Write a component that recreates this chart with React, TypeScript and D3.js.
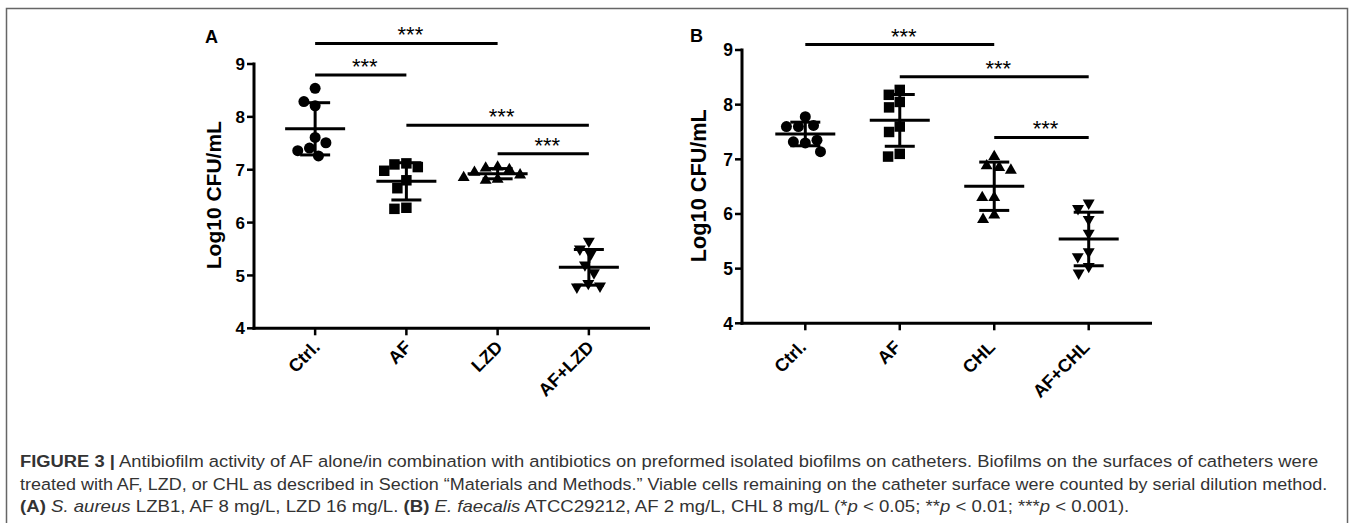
import React, { useLayoutEffect, useRef, useState } from 'react';
import * as d3 from 'd3';

// ---------- data ----------
const catsA = ['Ctrl.', 'AF', 'LZD', 'AF+LZD'];
const catsB = ['Ctrl.', 'AF', 'CHL', 'AF+CHL'];
const yTicks = [4, 5, 6, 7, 8, 9];

const aCtrl = [8.54, 8.21, 8.29, 7.61, 7.41, 7.51, 7.26, 7.36];
const aAF = [7.12, 7.1, 7.05, 6.98, 6.8, 6.65, 6.28, 6.26];
const aLZD = [7.05, 7.03, 7.0, 6.95, 6.9, 6.85, 6.82, 6.8];
const aAFLZD = [5.65, 5.5, 5.4, 5.2, 5.05, 4.85, 4.8, 4.78];

const bCtrl = [7.78, 7.6, 7.62, 7.6, 7.3, 7.32, 7.35, 7.14];
const bAF = [8.27, 8.18, 8.05, 7.95, 7.6, 7.5, 7.1, 7.05];
const bCHL = [7.05, 6.88, 6.85, 6.8, 6.3, 6.3, 5.98, 5.9];
const bAFCHL = [6.2, 6.1, 5.9, 5.65, 5.31, 5.22, 5.04, 4.92];

const sigFromA = ['Ctrl.', 'Ctrl.', 'AF', 'LZD'];
const sigToA = ['LZD', 'AF', 'AF+LZD', 'AF+LZD'];
const sigLevelA = [9.39, 8.79, 7.84, 7.3];
const sigLabelA = ['***', '***', '***', '***'];

const sigFromB = ['Ctrl.', 'AF', 'CHL'];
const sigToB = ['CHL', 'AF+CHL', 'AF+CHL'];
const sigLevelB = [9.1, 8.51, 7.4];
const sigLabelB = ['***', '***', '***'];

// ---------- helpers ----------
function swarm(vals: number[], y: (v: number) => number, D: number): number[] {
  const placed: { x: number; y: number }[] = [];
  return vals.map((v) => {
    const py = y(v);
    const iv = placed
      .filter((p) => Math.abs(p.y - py) < D)
      .map((p) => {
        const w = Math.sqrt(D * D - (p.y - py) * (p.y - py));
        return [p.x - w, p.x + w];
      });
    const cands = [0, ...iv.flat()].sort((a, b) => Math.abs(a) - Math.abs(b));
    const x =
      cands.find((c) => iv.every(([a, b]) => c <= a + 1e-6 || c >= b - 1e-6)) ?? 0;
    placed.push({ x, y: py });
    return x;
  });
}

const symbolTypes = [d3.symbolCircle, d3.symbolSquare, d3.symbolTriangle, d3.symbolTriangle];
const symbolSizes = [95, 110, 62, 62];
const symbolRot = [0, 0, 0, 180];

const FONT = '"Liberation Sans", Arial, sans-serif';

interface PanelProps {
  cats: string[];
  groups: number[][];
  sigFrom: string[];
  sigTo: string[];
  sigLevel: number[];
  sigLabel: string[];
  x0: number;
  x1: number;
  yTop: number;
  yBot: number;
  letter: string;
  letterX: number;
  letterY: number;
  titleX: number;
  titleFont: number;
  tickFont: number;
  labDx: number;
  labDy: number;
}

function Panel(p: PanelProps) {
  const x = d3.scalePoint<string>().domain(p.cats).range([p.x0, p.x1]).padding(0.67);
  const y = d3.scaleLinear().domain([4, 9]).range([p.yBot, p.yTop]);
  const sw = 3;
  return (
    <g>
      <text x={p.letterX} y={p.letterY} fontFamily={FONT} fontWeight="bold" fontSize={18}>
        {p.letter}
      </text>
      <line x1={p.x0} x2={p.x0} y1={y(9) - 1.5} y2={y(4) + 1.5} stroke="#000" strokeWidth={sw} />
      {yTicks.map((t) => (
        <g key={t}>
          <line x1={p.x0 - 7} x2={p.x0} y1={y(t)} y2={y(t)} stroke="#000" strokeWidth={2.5} />
          <text
            x={p.x0 - 9}
            y={y(t)}
            dy="0.36em"
            textAnchor="end"
            fontFamily={FONT}
            fontWeight="bold"
            fontSize={p.tickFont}
          >
            {t}
          </text>
        </g>
      ))}
      <text
        transform={`translate(${p.titleX},${(y(9) + y(4)) / 2 - 1}) rotate(-90)`}
        textAnchor="middle"
        fontFamily={FONT}
        fontWeight="bold"
        fontSize={p.titleFont}
      >
        Log10 CFU/mL
      </text>
      <line x1={p.x0 - 1.5} x2={p.x1} y1={p.yBot} y2={p.yBot} stroke="#000" strokeWidth={sw} />
      {p.cats.map((c) => (
        <g key={c}>
          <line x1={x(c)} x2={x(c)} y1={p.yBot} y2={p.yBot + 7} stroke="#000" strokeWidth={2.5} />
          <text
            transform={`translate(${(x(c) as number) + p.labDx},${p.yBot + p.labDy}) rotate(-45)`}
            textAnchor="end"
            fontFamily={FONT}
            fontWeight="bold"
            fontSize={18}
          >
            {c}
          </text>
        </g>
      ))}
      {p.groups.map((vals, gi) => {
        const cx = x(p.cats[gi]) as number;
        const offs = swarm(vals, y, 12);
        const m = d3.mean(vals) as number;
        const sd = d3.deviation(vals) as number;
        const sym = d3.symbol().type(symbolTypes[gi]).size(symbolSizes[gi]);
        return (
          <g key={gi}>
            {vals.map((v, i) => (
              <path
                key={i}
                d={sym() as string}
                transform={`translate(${cx + offs[i]},${y(v)}) rotate(${symbolRot[gi]})`}
                fill="#000"
              />
            ))}
            <line x1={cx - 30} x2={cx + 30} y1={y(m)} y2={y(m)} stroke="#000" strokeWidth={sw} />
            <line x1={cx} x2={cx} y1={y(m + sd)} y2={y(m - sd)} stroke="#000" strokeWidth={sw} />
            <line x1={cx - 15} x2={cx + 15} y1={y(m + sd)} y2={y(m + sd)} stroke="#000" strokeWidth={sw} />
            <line x1={cx - 15} x2={cx + 15} y1={y(m - sd)} y2={y(m - sd)} stroke="#000" strokeWidth={sw} />
          </g>
        );
      })}
      {p.sigFrom.map((f, i) => {
        const xa = x(f) as number;
        const xb = x(p.sigTo[i]) as number;
        const yy = y(p.sigLevel[i]);
        return (
          <g key={i}>
            <line x1={xa} x2={xb} y1={yy} y2={yy} stroke="#000" strokeWidth={sw} />
            <text
              x={(xa + xb) / 2 + 4}
              y={yy - 1}
              textAnchor="middle"
              fontFamily={FONT}
              fontSize={22}
            >
              {p.sigLabel[i]}
            </text>
          </g>
        );
      })}
    </g>
  );
}

function FitText(props: { x: number; y: number; width: number; children: React.ReactNode }) {
  const ref = useRef<SVGTextElement>(null);
  const [s, setS] = useState(1);
  useLayoutEffect(() => {
    const el = ref.current;
    if (el) {
      const w = el.getComputedTextLength();
      if (w > 0) setS(props.width / w);
    }
  }, [props.width]);
  return (
    <text ref={ref} transform={`translate(${props.x},${props.y}) scale(${s},1)`}>
      {props.children}
    </text>
  );
}

const CAP_FONT = '"Liberation Sans", Arial, sans-serif';

export default function App() {
  return (
    <svg
      width={1357}
      height={523}
      style={{ position: 'absolute', left: 0, top: 0, background: '#fff' }}
    >
      <rect x={6.5} y={8.5} width={1341} height={540} fill="none" stroke="#666" strokeWidth={1.5} />
      <Panel
        cats={catsA}
        groups={[aCtrl, aAF, aLZD, aAFLZD]}
        sigFrom={sigFromA}
        sigTo={sigToA}
        sigLevel={sigLevelA}
        sigLabel={sigLabelA}
        x0={254}
        x1={650}
        yTop={64}
        yBot={328.3}
        letter="A"
        letterX={205}
        letterY={43}
        titleX={221}
        titleFont={21}
        tickFont={17}
        labDx={6}
        labDy={20}
      />
      <Panel
        cats={catsB}
        groups={[bCtrl, bAF, bCHL, bAFCHL]}
        sigFrom={sigFromB}
        sigTo={sigToB}
        sigLevel={sigLevelB}
        sigLabel={sigLabelB}
        x0={742}
        x1={1152}
        yTop={50}
        yBot={323.3}
        letter="B"
        letterX={690}
        letterY={42}
        titleX={706}
        titleFont={21.7}
        tickFont={17.5}
        labDx={2}
        labDy={25}
      />
      <g fontFamily={CAP_FONT} fontSize={17} fill="#333">
        <FitText x={20} y={467} width={1299}>
          <tspan fontWeight="bold">FIGURE 3 |</tspan> Antibiofilm activity of AF alone/in combination
          with antibiotics on preformed isolated biofilms on catheters. Biofilms on the surfaces of
          catheters were
        </FitText>
        <FitText x={20} y={490} width={1308}>
          treated with AF, LZD, or CHL as described in Section “Materials and Methods.” Viable cells
          remaining on the catheter surface were counted by serial dilution method.
        </FitText>
        <FitText x={20} y={512} width={1110}>
          <tspan fontWeight="bold">(A)</tspan> <tspan fontStyle="italic">S. aureus</tspan> LZB1, AF 8
          mg/L, LZD 16 mg/L. <tspan fontWeight="bold">(B)</tspan>{' '}
          <tspan fontStyle="italic">E. faecalis</tspan> ATCC29212, AF 2 mg/L, CHL 8 mg/L (*
          <tspan fontStyle="italic">p</tspan> &lt; 0.05; **<tspan fontStyle="italic">p</tspan> &lt;
          0.01; ***<tspan fontStyle="italic">p</tspan> &lt; 0.001).
        </FitText>
      </g>
    </svg>
  );
}
